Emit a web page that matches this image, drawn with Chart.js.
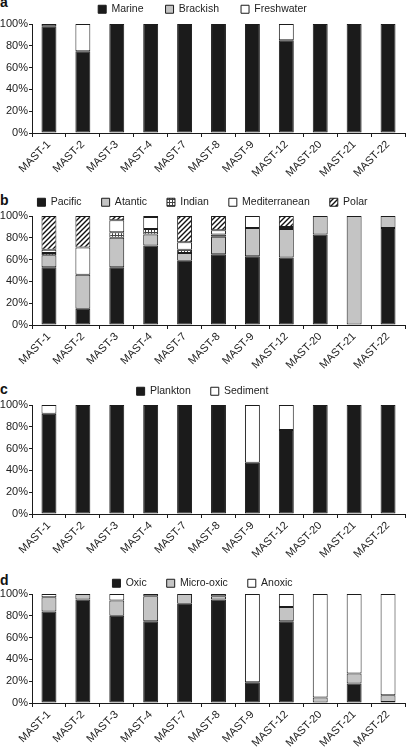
<!DOCTYPE html>
<html>
<head>
<meta charset="utf-8">
<script src="https://cdn.jsdelivr.net/npm/chart.js@4.4.0/dist/chart.umd.min.js"></script>
<style>
  html, body { margin: 0; padding: 0; background: #fff; overflow: hidden; }
  body { position: relative; width: 406px; height: 749px; font-family: 'Liberation Sans', Arial, sans-serif; }
  canvas { position: absolute; left: 0; }
  .letter { position: absolute; left: 0; font-weight: bold; font-size: 14px; line-height: 14px; color: #111; }
</style>
</head>
<body>
<div class="letter" style="top:-5px">a</div>
<div class="letter" style="top:193px">b</div>
<div class="letter" style="top:382px">c</div>
<div class="letter" style="top:573px">d</div>
<canvas id="chartA"></canvas>
<canvas id="chartB"></canvas>
<canvas id="chartC"></canvas>
<canvas id="chartD"></canvas>
<script>
// sample names (x axis)
const categories = ['MAST-1', 'MAST-2', 'MAST-3', 'MAST-4', 'MAST-7', 'MAST-8', 'MAST-9', 'MAST-12', 'MAST-20', 'MAST-21', 'MAST-22'];
const yTicks = [0, 20, 40, 60, 80, 100];

// a - habitat salinity
const marine     = [98, 75, 100, 100, 100, 100, 100, 85, 100, 100, 100];
const brackish   = [2, 0, 0, 0, 0, 0, 0, 0, 0, 0, 0];
const freshwater = [0, 25, 0, 0, 0, 0, 0, 15, 0, 0, 0];

// b - ocean
const pacific       = [53, 15, 53, 73, 59, 65, 63, 62, 83, 0, 89];
const atantic       = [11, 31, 27, 10, 7, 16, 26, 26, 17, 100, 11];
const indian        = [2, 0, 5, 5, 3, 2, 0, 2, 0, 0, 0];
const mediterranean = [3, 25, 11, 11, 7, 4, 11, 0, 0, 0, 0];
const polar         = [31, 29, 4, 1, 24, 13, 0, 10, 0, 0, 0];

// c - plankton vs sediment
const plankton = [92, 100, 100, 100, 100, 100, 47, 77, 100, 100, 100];
const sediment = [8, 0, 0, 0, 0, 0, 53, 23, 0, 0, 0];

// d - oxygen
const oxic      = [84, 95, 80, 75, 91, 95, 19, 75, 0, 18, 1];
const microOxic = [13, 5, 14, 23, 9, 3, 0, 13, 5, 9, 6];
const anoxic    = [3, 0, 6, 2, 0, 2, 81, 12, 95, 73, 93];

const ink = '#1b1b1b';
const grey = '#c4c4c4';

Chart.defaults.font.family = "'Liberation Sans', Arial, sans-serif";
Chart.defaults.color = '#222';

// diagonal hatch for Polar
function hatchPattern() {
    const c = document.createElement('canvas');
    c.width = 5; c.height = 5;
    const g = c.getContext('2d');
    g.fillStyle = '#fff';
    g.fillRect(0, 0, 5, 5);
    g.strokeStyle = '#111';
    g.lineWidth = 1.4;
    g.beginPath();
    g.moveTo(-1, 6); g.lineTo(6, -1);
    g.moveTo(-1, 1); g.lineTo(1, -1);
    g.moveTo(4, 6); g.lineTo(6, 4);
    g.stroke();
    return g.createPattern(c, 'repeat');
}

// small grid for Indian
function gridPattern() {
    const c = document.createElement('canvas');
    c.width = 3; c.height = 3;
    const g = c.getContext('2d');
    g.fillStyle = '#fff';
    g.fillRect(0, 0, 3, 3);
    g.fillStyle = '#444';
    g.fillRect(0, 1, 3, 1);
    g.fillRect(1, 0, 1, 3);
    return g.createPattern(c, 'repeat');
}

function seg(label, data, fill) {
    return {
        label: label,
        // empty segments are skipped so they leave no stray border
        data: data.map(function(v) { return v === 0 ? null : v; }),
        backgroundColor: fill,
        borderColor: ink,
        borderWidth: 1,
        borderSkipped: false,
        barPercentage: 0.44,
        categoryPercentage: 1
    };
}

// plotTop = page y of the 100% line; legendH = room kept for the legend
function stackedChart(id, plotTop, legendH, legendPad, datasets) {
    const canvas = document.getElementById(id);
    canvas.width = 406;
    canvas.height = legendH + 109 + 48;
    canvas.style.top = (plotTop - legendH) + 'px';

    return new Chart(canvas, {
        type: 'bar',
        data: { labels: categories, datasets: datasets },
        options: {
            responsive: false,
            animation: false,
            layout: { padding: { left: 0, right: 1, top: 0, bottom: 0 } },
            plugins: {
                tooltip: { enabled: false },
                legend: {
                    position: 'top',
                    align: 'center',
                    maxHeight: legendH,
                    labels: {
                        boxWidth: 8,
                        boxHeight: 8,
                        padding: legendPad,
                        color: '#222',
                        font: { size: 10.5 }
                    }
                }
            },
            scales: {
                x: {
                    stacked: true,
                    grid: { drawOnChartArea: false, drawTicks: true, tickLength: 4, color: ink, offset: true },
                    border: { color: ink, width: 1 },
                    ticks: {
                        autoSkip: false,
                        maxRotation: 45,
                        minRotation: 45,
                        padding: 1,
                        color: '#222',
                        font: { size: 11 }
                    },
                    afterFit: function(scale) { scale.height = 48; }
                },
                y: {
                    stacked: true,
                    min: 0,
                    max: 100,
                    grid: { drawOnChartArea: false, drawTicks: true, tickLength: 3, color: ink },
                    border: { color: ink, width: 1 },
                    afterBuildTicks: function(scale) {
                        scale.ticks = yTicks.map(function(v) { return { value: v }; });
                    },
                    ticks: {
                        padding: 1,
                        color: '#222',
                        font: { size: 11 },
                        callback: function(value) { return value + '%'; }
                    },
                    afterFit: function(scale) { scale.width = 32; }
                }
            }
        }
    });
}

const polarFill = hatchPattern();
const indianFill = gridPattern();

stackedChart('chartA', 24, 42, 22, [
    seg('Marine', marine, ink),
    seg('Brackish', brackish, grey),
    seg('Freshwater', freshwater, '#fff')
]);

stackedChart('chartB', 216, 39, 20, [
    seg('Pacific', pacific, ink),
    seg('Atantic', atantic, grey),
    seg('Indian', indian, indianFill),
    seg('Mediterranean', mediterranean, '#fff'),
    seg('Polar', polar, polarFill)
]);

stackedChart('chartC', 405, 39, 20, [
    seg('Plankton', plankton, ink),
    seg('Sediment', sediment, '#fff')
]);

stackedChart('chartD', 594, 36, 20, [
    seg('Oxic', oxic, ink),
    seg('Micro-oxic', microOxic, grey),
    seg('Anoxic', anoxic, '#fff')
]);
</script>
</body>
</html>
